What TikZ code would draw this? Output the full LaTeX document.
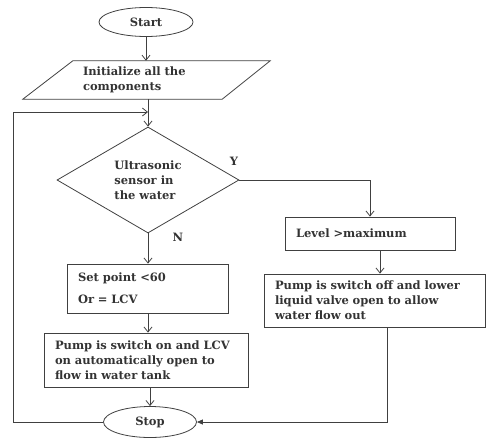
\documentclass[tikz,border=0pt]{standalone}
\usepackage{fontspec}
\setmainfont{DejaVu Serif}
\usetikzlibrary{shapes.geometric,arrows.meta,calc}
\begin{document}
\begin{tikzpicture}[x=1pt,y=-1pt,
  every node/.style={font=\bfseries\fontsize{11.5}{15}\selectfont, text=black!80},
  line/.style={draw=black!75, line width=0.8pt},
  arr/.style={line, -{Straight Barb[length=5pt,width=8pt]}},
  tri/.style={line, -{Triangle[length=6pt,width=5pt]}},
  term/.style={draw=black!75, line width=0.8pt, ellipse, inner sep=0pt},
  box/.style={draw=black!75, line width=0.8pt, rectangle, align=left, inner xsep=11pt, inner ysep=0pt},
  lbl/.style={font=\bfseries\fontsize{11.5}{12}\selectfont}
]
\useasboundingbox (0,0) rectangle (486,437);

\node[term, minimum width=94pt, minimum height=29pt] (start) at (146,22) {Start};

\node[align=left, inner xsep=60pt, inner ysep=0pt, text width=127pt, minimum height=38pt] (init) at (146.5,80) {Initialize all the\\components};
\draw[line] (init.south west) -- ($(init.south east)+(-48,0)$) -- (init.north east) -- ($(init.north west)+(50,0)$) -- cycle;

\node[diamond, draw=black!75, line width=0.8pt, inner sep=0pt, minimum width=182pt, minimum height=104pt, align=left] (dia) at (148,180) {Ultrasonic\\sensor in\\the water};

\node[box, text width=148pt, minimum height=33pt] (level) at (370,233.5) {Level >maximum};
\node[box, text width=199pt, minimum height=53pt] (pumpoff) at (374.5,300.5) {Pump is switch off and lower\\liquid valve open to allow\\water flow out};
\node[box, text width=139pt, minimum height=49pt] (setp) at (147.5,288.5) {Set point <60\\[7pt]Or = LCV};
\node[box, text width=182pt, minimum height=54pt] (pumpon) at (146,360) {\mbox{Pump is switch on and LCV}\\on automatically open to\\flow in water tank};

\node[term, minimum width=93pt, minimum height=31pt] (stop) at (150,422) {Stop};

\node[lbl] (ylab) at (234,161) {Y};
\node[lbl] (nlab) at (178,237) {N};

\coordinate (lp) at (13,112);

\draw[arr] (start.south) -- (start.south |- init.north);
\draw[arr] (dia.north |- init.south) -- (dia.north);
\draw[arr] (stop.west) -| (lp) -- (dia.north |- lp);
\draw[arr] (dia.east) -| (level.north);
\draw[arr] ([xshift=10pt]level.south) -- ([xshift=10pt]level.south |- pumpoff.north);
\draw[arr] (dia.south) -- (dia.south |- setp.north);
\draw[arr] (dia.south |- setp.south) -- (dia.south |- pumpon.north);
\draw[arr] (stop.north |- pumpon.south) -- (stop.north);
\draw[tri] ([xshift=12.5pt]pumpoff.south) |- (stop.east);
\end{tikzpicture}
\end{document}
